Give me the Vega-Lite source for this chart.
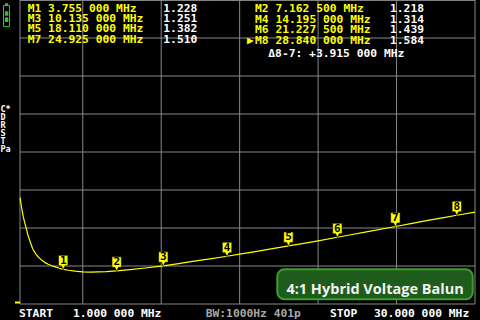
{
  "$schema": "https://vega.github.io/schema/vega-lite/v6.json",
  "width": 455,
  "height": 304,
  "autosize": {"type": "none"},
  "padding": {"left": 20, "top": 0, "right": 5, "bottom": 16},
  "background": "#000000",
  "config": {
    "view": {"stroke": null}
  },
  "datasets": {
    "swr": [
      {"f": 1.0, "s": 1.70}, {"f": 1.1, "s": 1.635}, {"f": 1.2, "s": 1.578}, {"f": 1.3, "s": 1.535},
      {"f": 1.4, "s": 1.497}, {"f": 1.5, "s": 1.455}, {"f": 1.65, "s": 1.41}, {"f": 1.8, "s": 1.365},
      {"f": 2.0, "s": 1.33}, {"f": 2.2, "s": 1.305}, {"f": 2.4, "s": 1.288}, {"f": 2.6, "s": 1.272},
      {"f": 2.8, "s": 1.262}, {"f": 3.0, "s": 1.253}, {"f": 3.25, "s": 1.244}, {"f": 3.5, "s": 1.235},
      {"f": 3.755, "s": 1.228}, {"f": 4.1, "s": 1.222}, {"f": 4.5, "s": 1.216}, {"f": 5.0, "s": 1.212},
      {"f": 5.5, "s": 1.21}, {"f": 6.0, "s": 1.211}, {"f": 6.5, "s": 1.213}, {"f": 7.1625, "s": 1.218},
      {"f": 8.0, "s": 1.226}, {"f": 9.0, "s": 1.237}, {"f": 10.135, "s": 1.251}, {"f": 11.0, "s": 1.264},
      {"f": 12.0, "s": 1.28}, {"f": 13.0, "s": 1.295}, {"f": 14.195, "s": 1.314}, {"f": 15.0, "s": 1.328},
      {"f": 16.0, "s": 1.345}, {"f": 17.0, "s": 1.363}, {"f": 18.11, "s": 1.382}, {"f": 19.0, "s": 1.397},
      {"f": 20.0, "s": 1.415}, {"f": 21.2275, "s": 1.439}, {"f": 22.0, "s": 1.454}, {"f": 23.0, "s": 1.473},
      {"f": 24.925, "s": 1.51}, {"f": 26.0, "s": 1.53}, {"f": 27.0, "s": 1.55}, {"f": 28.0, "s": 1.568},
      {"f": 28.84, "s": 1.584}, {"f": 30.0, "s": 1.605}
    ],
    "vgrid": [{"f": 1}, {"f": 5}, {"f": 10}, {"f": 15}, {"f": 20}, {"f": 25}, {"f": 30}],
    "hgrid": [{"s": 1}, {"s": 1.25}, {"s": 1.5}, {"s": 1.75}, {"s": 2}, {"s": 2.25}, {"s": 2.5}, {"s": 2.75}, {"s": 2.997}],
    "markers": [
      {"n": "1", "f": 3.755, "s": 1.228}, {"n": "2", "f": 7.1625, "s": 1.218},
      {"n": "3", "f": 10.135, "s": 1.251}, {"n": "4", "f": 14.195, "s": 1.314},
      {"n": "5", "f": 18.11, "s": 1.382}, {"n": "6", "f": 21.2275, "s": 1.439},
      {"n": "7", "f": 24.925, "s": 1.51}, {"n": "8", "f": 28.84, "s": 1.584}
    ],
    "labels": [
      {"g": "yel", "t": "M1 3.755 000 MHz", "f": 1.4908, "s": 2.9408},
      {"g": "yel", "t": "M3 10.135 000 MHz", "f": 1.4908, "s": 2.875},
      {"g": "yel", "t": "M5 18.110 000 MHz", "f": 1.4908, "s": 2.8092},
      {"g": "yel", "t": "M7 24.925 000 MHz", "f": 1.4908, "s": 2.7368},
      {"g": "yel", "t": "M2 7.162 500 MHz", "f": 15.978, "s": 2.9388},
      {"g": "yel", "t": "M4 14.195 000 MHz", "f": 15.978, "s": 2.8684},
      {"g": "yel", "t": "M6 21.227 500 MHz", "f": 15.978, "s": 2.8026},
      {"g": "yel", "t": "M8 28.840 000 MHz", "f": 15.978, "s": 2.7303},
      {"g": "yel", "t": "▶", "f": 15.47, "s": 2.7303},
      {"g": "wht", "t": "1.228", "f": 10.133, "s": 2.9408},
      {"g": "wht", "t": "1.251", "f": 10.133, "s": 2.875},
      {"g": "wht", "t": "1.382", "f": 10.133, "s": 2.8092},
      {"g": "wht", "t": "1.510", "f": 10.133, "s": 2.7368},
      {"g": "wht", "t": "1.218", "f": 24.582, "s": 2.9388},
      {"g": "wht", "t": "1.314", "f": 24.582, "s": 2.8684},
      {"g": "wht", "t": "1.439", "f": 24.582, "s": 2.8026},
      {"g": "wht", "t": "1.584", "f": 24.582, "s": 2.7303},
      {"g": "wht", "t": "Δ8-7: +3.915 000 MHz", "f": 16.825, "s": 2.6447},
      {"g": "wht", "t": "START", "f": 0.936, "s": 0.931},
      {"g": "wht", "t": "1.000 000 MHz", "f": 4.378, "s": 0.931},
      {"g": "wht", "t": "STOP", "f": 20.758, "s": 0.931},
      {"g": "wht", "t": "30.000 000 MHz", "f": 23.562, "s": 0.931},
      {"g": "side", "t": "C*", "f": -0.2428, "s": 2.2829},
      {"g": "side", "t": "D", "f": -0.2428, "s": 2.2303},
      {"g": "side", "t": "R", "f": -0.2428, "s": 2.1776},
      {"g": "side", "t": "S", "f": -0.2428, "s": 2.125},
      {"g": "side", "t": "T", "f": -0.2428, "s": 2.0724},
      {"g": "side", "t": "Pa", "f": -0.2428, "s": 2.0197},
      {"g": "gry", "t": "BW:1000Hz 401p", "f": 12.836, "s": 0.931}
    ],
    "battery": [
      {"part": "body", "f": -0.0516, "f2": 0.3308, "s": 2.9638, "s2": 2.8257},
      {"part": "nub", "f": 0.044, "f2": 0.2352, "s": 2.9783, "s2": 2.9651},
      {"part": "bar", "f": 0.044, "f2": 0.2543, "s": 2.9257, "s2": 2.8967},
      {"part": "bar", "f": 0.044, "f2": 0.2543, "s": 2.8862, "s2": 2.8553}
    ],
    "legendbox": [
      {"t": "4:1 Hybrid Voltage Balun", "f": 17.4, "f2": 29.853, "s": 1.2283, "s2": 1.0309, "fc": 23.63, "sc": 1.0921}
    ],
    "ref": [{"f": 0.84, "s": 1.0}]
  },
  "layer": [
    {
      "data": {"name": "vgrid"},
      "mark": {"type": "rule", "color": "#888888", "strokeWidth": 1},
      "encoding": {
        "x": {"field": "f", "type": "quantitative", "scale": {"domain": [1, 30], "nice": false, "zero": false}, "axis": null}
      }
    },
    {
      "data": {"name": "hgrid"},
      "mark": {"type": "rule", "color": "#888888", "strokeWidth": 1},
      "encoding": {
        "y": {"field": "s", "type": "quantitative", "scale": {"domain": [1, 3], "nice": false, "zero": false}, "axis": null}
      }
    },
    {
      "data": {"name": "swr"},
      "mark": {"type": "line", "color": "#ffff00", "strokeWidth": 1.2},
      "encoding": {
        "x": {"field": "f", "type": "quantitative", "scale": {"domain": [1, 30], "nice": false, "zero": false}, "axis": null},
        "y": {"field": "s", "type": "quantitative", "scale": {"domain": [1, 3], "nice": false, "zero": false}, "axis": null}
      }
    },
    {
      "data": {"name": "markers"},
      "mark": {"type": "point", "filled": true, "fill": "#ffff00", "stroke": "#000000", "strokeWidth": 0.6, "opacity": 1, "size": 4,
               "shape": "M-4.7,-14H4.7V-3.5H1.8L0,0.5L-1.8,-3.5H-4.7Z"},
      "encoding": {
        "x": {"field": "f", "type": "quantitative", "scale": {"domain": [1, 30], "nice": false, "zero": false}, "axis": null},
        "y": {"field": "s", "type": "quantitative", "scale": {"domain": [1, 3], "nice": false, "zero": false}, "axis": null}
      }
    },
    {
      "data": {"name": "markers"},
      "mark": {"type": "text", "font": "DejaVu Sans Mono", "fontWeight": "bold", "fontSize": 11, "color": "#000000", "dy": -8.5, "baseline": "middle", "align": "center"},
      "encoding": {
        "x": {"field": "f", "type": "quantitative", "scale": {"domain": [1, 30], "nice": false, "zero": false}, "axis": null},
        "y": {"field": "s", "type": "quantitative", "scale": {"domain": [1, 3], "nice": false, "zero": false}, "axis": null},
        "text": {"field": "n"}
      }
    },
    {
      "data": {"name": "labels"},
      "transform": [{"filter": "datum.g === 'yel'"}],
      "mark": {"type": "text", "font": "DejaVu Sans Mono", "fontWeight": "bold", "fontSize": 11.3, "color": "#ffff00", "align": "left", "clip": false},
      "encoding": {
        "x": {"field": "f", "type": "quantitative", "scale": {"domain": [1, 30], "nice": false, "zero": false}, "axis": null},
        "y": {"field": "s", "type": "quantitative", "scale": {"domain": [1, 3], "nice": false, "zero": false}, "axis": null},
        "text": {"field": "t"}
      }
    },
    {
      "data": {"name": "labels"},
      "transform": [{"filter": "datum.g === 'wht'"}],
      "mark": {"type": "text", "font": "DejaVu Sans Mono", "fontWeight": "bold", "fontSize": 11.3, "color": "#ffffff", "align": "left", "clip": false},
      "encoding": {
        "x": {"field": "f", "type": "quantitative", "scale": {"domain": [1, 30], "nice": false, "zero": false}, "axis": null},
        "y": {"field": "s", "type": "quantitative", "scale": {"domain": [1, 3], "nice": false, "zero": false}, "axis": null},
        "text": {"field": "t"}
      }
    },
    {
      "data": {"name": "labels"},
      "transform": [{"filter": "datum.g === 'side'"}],
      "mark": {"type": "text", "font": "DejaVu Sans Mono", "fontWeight": "bold", "fontSize": 8.5, "color": "#ffffff", "align": "left", "clip": false},
      "encoding": {
        "x": {"field": "f", "type": "quantitative", "scale": {"domain": [1, 30], "nice": false, "zero": false}, "axis": null},
        "y": {"field": "s", "type": "quantitative", "scale": {"domain": [1, 3], "nice": false, "zero": false}, "axis": null},
        "text": {"field": "t"}
      }
    },
    {
      "data": {"name": "labels"},
      "transform": [{"filter": "datum.g === 'gry'"}],
      "mark": {"type": "text", "font": "DejaVu Sans Mono", "fontWeight": "bold", "fontSize": 11.3, "color": "#a8a8a8", "align": "left", "clip": false},
      "encoding": {
        "x": {"field": "f", "type": "quantitative", "scale": {"domain": [1, 30], "nice": false, "zero": false}, "axis": null},
        "y": {"field": "s", "type": "quantitative", "scale": {"domain": [1, 3], "nice": false, "zero": false}, "axis": null},
        "text": {"field": "t"}
      }
    },
    {
      "data": {"name": "battery"},
      "transform": [{"filter": "datum.part === 'body'"}],
      "mark": {"type": "rect", "fill": null, "fillOpacity": 0, "stroke": "#22cc22", "strokeWidth": 1, "clip": false},
      "encoding": {
        "x": {"field": "f", "type": "quantitative", "scale": {"domain": [1, 30], "nice": false, "zero": false}, "axis": null},
        "x2": {"field": "f2"},
        "y": {"field": "s", "type": "quantitative", "scale": {"domain": [1, 3], "nice": false, "zero": false}, "axis": null},
        "y2": {"field": "s2"}
      }
    },
    {
      "data": {"name": "battery"},
      "transform": [{"filter": "datum.part !== 'body'"}],
      "mark": {"type": "rect", "fill": "#22cc22", "clip": false},
      "encoding": {
        "x": {"field": "f", "type": "quantitative", "scale": {"domain": [1, 30], "nice": false, "zero": false}, "axis": null},
        "x2": {"field": "f2"},
        "y": {"field": "s", "type": "quantitative", "scale": {"domain": [1, 3], "nice": false, "zero": false}, "axis": null},
        "y2": {"field": "s2"}
      }
    },
    {
      "data": {"name": "legendbox"},
      "mark": {"type": "rect", "fill": "#1e5b1c", "stroke": "#3c9e30", "strokeWidth": 2, "cornerRadius": 7},
      "encoding": {
        "x": {"field": "f", "type": "quantitative", "scale": {"domain": [1, 30], "nice": false, "zero": false}, "axis": null},
        "x2": {"field": "f2"},
        "y": {"field": "s", "type": "quantitative", "scale": {"domain": [1, 3], "nice": false, "zero": false}, "axis": null},
        "y2": {"field": "s2"}
      }
    },
    {
      "data": {"name": "legendbox"},
      "mark": {"type": "text", "font": "Open Sans", "fontWeight": "bold", "fontSize": 14.5, "color": "#f2f2f2", "align": "center"},
      "encoding": {
        "x": {"field": "fc", "type": "quantitative", "scale": {"domain": [1, 30], "nice": false, "zero": false}, "axis": null},
        "y": {"field": "sc", "type": "quantitative", "scale": {"domain": [1, 3], "nice": false, "zero": false}, "axis": null},
        "text": {"field": "t"}
      }
    },
    {
      "data": {"name": "ref"},
      "mark": {"type": "point", "filled": true, "fill": "#ffff00", "opacity": 1, "size": 4, "shape": "M-2.5,-2.5H2.5V-0.5H-2.5Z", "clip": false},
      "encoding": {
        "x": {"field": "f", "type": "quantitative", "scale": {"domain": [1, 30], "nice": false, "zero": false}, "axis": null},
        "y": {"field": "s", "type": "quantitative", "scale": {"domain": [1, 3], "nice": false, "zero": false}, "axis": null}
      }
    }
  ]
}
